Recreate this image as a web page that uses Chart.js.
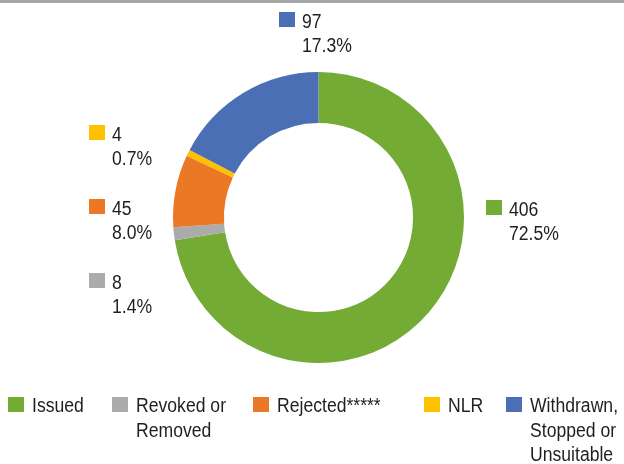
<!DOCTYPE html>
<html>
<head>
<meta charset="utf-8">
<script src="https://cdn.jsdelivr.net/npm/chart.js@4.4.1/dist/chart.umd.min.js"></script>
<style>
    html, body { margin: 0; padding: 0; background: #fff; }
    #wrap { position: relative; width: 624px; height: 464px; }
    #topRule { position: absolute; left: 0; top: 0; width: 624px; height: 3px; background: #a6a6a6; }
    canvas { position: absolute; left: 0; top: 0; }
</style>
</head>
<body>
<div id="wrap">
    <canvas id="permitChart" width="624" height="464"></canvas>
    <div id="topRule"></div>
</div>
<script>
// Chart data
const categories = ['Issued', 'Revoked or Removed', 'Rejected*****', 'NLR', 'Withdrawn, Stopped or Unsuitable'];
const legendLines = [['Issued'], ['Revoked or', 'Removed'], ['Rejected*****'], ['NLR'], ['Withdrawn,', 'Stopped or', 'Unsuitable']];
const counts = [406, 8, 45, 4, 97];
const sliceColors = ['#73ab34', '#ababab', '#ea7825', '#ffc000', '#4b6fb5'];

const textFont = '20px "Liberation Sans", Arial, sans-serif';
const textColor = '#1f1f1f';
const narrow = 0.88; // the original typeface is condensed

function drawNarrowText(ctx, t, x, y) {
    ctx.save();
    ctx.translate(x, y);
    ctx.scale(narrow, 1);
    ctx.fillText(t, 0, 0);
    ctx.restore();
}

// Value + percentage callouts, placed relative to the doughnut centre
const calloutLabels = {
    id: 'calloutLabels',
    afterDatasetsDraw(chart, args, opts) {
        const meta = chart.getDatasetMeta(0);
        const cx = meta.data[0].x;
        const cy = meta.data[0].y;
        const ds = chart.data.datasets[0];
        const total = ds.data.reduce((a, b) => a + b, 0);
        const ctx = chart.ctx;
        ctx.save();
        ctx.font = textFont;
        ctx.textBaseline = 'alphabetic';
        ds.data.forEach((v, i) => {
            const [dx, dy] = opts.offsets[i];
            const x = cx + dx;
            const y = cy + dy;
            ctx.fillStyle = ds.backgroundColor[i];
            ctx.fillRect(x, y, 16, 15);
            ctx.fillStyle = textColor;
            drawNarrowText(ctx, String(v), x + 23, y + 16);
            drawNarrowText(ctx, (v / total * 100).toFixed(1) + '%', x + 23, y + 40);
        });
        ctx.restore();
    }
};

// Bottom legend with wrapped labels
const wrappedLegend = {
    id: 'wrappedLegend',
    afterDraw(chart, args, opts) {
        const ctx = chart.ctx;
        ctx.save();
        ctx.font = textFont;
        ctx.textBaseline = 'alphabetic';
        legendLines.forEach((lines, i) => {
            const x = opts.itemX[i];
            ctx.fillStyle = sliceColors[i];
            ctx.fillRect(x, opts.top, 16, 15);
            ctx.fillStyle = textColor;
            lines.forEach((t, j) => {
                drawNarrowText(ctx, t, x + 24, opts.top + 15 + j * opts.lineHeight);
            });
        });
        ctx.restore();
    }
};

const ctx = document.getElementById('permitChart').getContext('2d');
window.permitChart = new Chart(ctx, {
    type: 'doughnut',
    data: {
        labels: categories,
        datasets: [{
            data: counts,
            backgroundColor: sliceColors,
            borderWidth: 0,
            hoverOffset: 0
        }]
    },
    options: {
        responsive: false,
        animation: false,
        cutout: '65%',
        layout: {
            padding: { top: 72, bottom: 101, left: 13, right: 0 }
        },
        plugins: {
            legend: { display: false },
            tooltip: { enabled: false },
            calloutLabels: {
                offsets: [[167.5, -17.5], [-229.5, 55.5], [-229.5, -18.5], [-229.5, -92.5], [-39.5, -205.5]]
            },
            wrappedLegend: {
                itemX: [8, 112, 253, 424, 506],
                top: 397,
                lineHeight: 24.5
            }
        }
    },
    plugins: [calloutLabels, wrappedLegend]
});
</script>
</body>
</html>
